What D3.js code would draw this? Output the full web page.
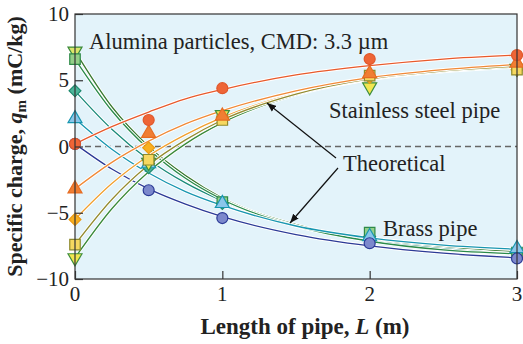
<!DOCTYPE html>
<html>
<head>
<meta charset="utf-8">
<script src="https://cdn.jsdelivr.net/npm/d3@7"></script>
<style>
	body { margin: 0; background: #fff; }
	svg { display: block; font-family: 'Liberation Serif', 'Times New Roman', serif; }
</style>
</head>
<body>
<svg width="523" height="344"></svg>
<script>
(function(){
	'use strict';

	// measured points (null = hidden behind other marks)
	const lengths = [0, 0.5, 1, 2, 3];
	const ssCircle = [0.2, 2.0, 4.4, 6.6, 6.9];
	const ssTriangle = [-3.2, 1.0, 2.3, 5.5, 6.3];
	const ssDiamond = [-5.5, -0.1, 2.2, 5.2, 5.8];
	const ssSquare = [-7.4, -1.0, 2.0, 5.35, 5.8];
	const ssTriDown = [-8.4, -1.2, 2.4, 4.5, 5.9];
	const brCircle = [0.2, -3.3, -5.4, -7.3, -8.45];
	const brTriangle = [2.1, -1.3, -4.3, -6.8, -7.7];
	const brDiamond = [4.2, -1.6, -4.3, -6.8, -8.0];
	const brSquare = [6.6, -1.0, -4.2, -6.5, -8.0];
	const brTriDown = [7.2, null, null, null, null];

	const theoryL = [0, 0.25, 0.5, 0.75, 1, 1.5, 2, 2.5, 3];
	const ssCircleTh = [0.2, 1.5, 2.6, 3.6, 4.3, 5.4, 6.1, 6.6, 6.9];
	const ssTriangleTh = [-3.2, -1.2, 0.4, 1.7, 2.7, 4.2, 5.2, 5.8, 6.2];
	const ssDiamondTh = [-5.5, -2.8, -0.7, 0.9, 2.2, 4.0, 5.05, 5.7, 6.1];
	const ssSquareTh = [-7.4, -4.0, -1.4, 0.5, 2.0, 3.95, 5.1, 5.7, 6.05];
	const ssTriDownTh = [-8.4, -4.7, -1.9, 0.2, 1.8, 3.9, 5.05, 5.65, 6.0];
	const brCircleTh = [0.2, -1.7, -3.2, -4.35, -5.3, -6.65, -7.5, -8.05, -8.4];
	const brTriangleTh = [2.1, -0.2, -2.0, -3.4, -4.45, -6.0, -6.9, -7.45, -7.75];
	const brDiamondTh = [4.2, 1.3, -1.0, -2.75, -4.1, -6.0, -7.1, -7.7, -8.1];
	const brSquareTh = [6.6, 2.7, -0.2, -2.4, -4.0, -6.0, -7.15, -7.8, -8.1];
	const brTriDownTh = [7.2, 3.0, 0.0, -2.2, -3.9, -5.9, -7.0, -7.6, -7.95];

	const xTicks = [0, 1, 2, 3];
	const yTicks = [-10, -5, 0, 5, 10];

	// drawing order: brass first, stainless on top
	const series = [
		{ pts: brTriDown, th: brTriDownTh, shape: d3.symbolTriangle, rot: 180, size: 85, fill: '#dce66a', stroke: '#3a8a3a', line: '#3a7a30' },
		{ pts: brDiamond, th: brDiamondTh, shape: d3.symbolSquare, rot: 45, size: 70, fill: '#4db69a', stroke: '#1e8a6e', line: '#1a8a7a' },
		{ pts: brSquare, th: brSquareTh, shape: d3.symbolSquare, rot: 0, size: 110, fill: '#94cf88', stroke: '#2e8a48', line: '#2a8a4a' },
		{ pts: brTriangle, th: brTriangleTh, shape: d3.symbolTriangle, rot: 0, size: 85, fill: '#8ac6ea', stroke: '#1896b0', line: '#1896b0' },
		{ pts: brCircle, th: brCircleTh, shape: d3.symbolCircle, rot: 0, size: 95, fill: '#7c88cc', stroke: '#2b3a96', line: '#2b3a96' },
		{ pts: ssTriDown, th: ssTriDownTh, shape: d3.symbolTriangle, rot: 180, size: 85, fill: '#f2e650', stroke: '#3e8e3e', line: '#3a8a3a' },
		{ pts: ssDiamond, th: ssDiamondTh, shape: d3.symbolSquare, rot: 45, size: 70, fill: '#f9b020', stroke: '#ec9a12', line: '#f0a030' },
		{ pts: ssSquare, th: ssSquareTh, shape: d3.symbolSquare, rot: 0, size: 110, fill: '#f6d860', stroke: '#8e8a2e', line: '#948c30' },
		{ pts: ssTriangle, th: ssTriangleTh, shape: d3.symbolTriangle, rot: 0, size: 85, fill: '#f07e33', stroke: '#e66c22', line: '#f08a38' },
		{ pts: ssCircle, th: ssCircleTh, shape: d3.symbolCircle, rot: 0, size: 95, fill: '#ee6537', stroke: '#e0572a', line: '#e85a2c' }
	];

	const svg = d3.select('svg');
	const left = 75, right = 517, top = 14, bottom = 279;

	const x = d3.scaleLinear().domain([0, 3]).range([left, right]);
	const y = d3.scaleLinear().domain([-10, 10]).range([bottom, top]);

	svg.append('rect')
		.attr('x', left)
		.attr('y', top)
		.attr('width', right - left)
		.attr('height', bottom - top)
		.attr('fill', '#e3f3fa');

	// dashed zero line
	svg.append('line')
		.attr('x1', left)
		.attr('x2', right)
		.attr('y1', y(0))
		.attr('y2', y(0))
		.attr('stroke', '#666')
		.attr('stroke-width', 1.3)
		.attr('stroke-dasharray', '6,4');

	const line = d3.line()
		.x((d, i) => x(theoryL[i]))
		.y(d => y(d))
		.curve(d3.curveMonotoneX);

	const plot = svg.append('g');

	series.forEach(s => {
		plot.append('path')
			.attr('d', line(s.th))
			.attr('fill', 'none')
			.attr('stroke', '#fff')
			.attr('stroke-width', 3.2);
		plot.append('path')
			.attr('d', line(s.th))
			.attr('fill', 'none')
			.attr('stroke', s.line)
			.attr('stroke-width', 1.3);
	});

	series.forEach(s => {
		const pts = s.pts.map((v, i) => [lengths[i], v]).filter(p => p[1] !== null);
		plot.selectAll(null)
			.data(pts)
			.enter()
			.append('path')
				.attr('d', d3.symbol().type(s.shape).size(s.size))
				.attr('transform', d => `translate(${x(d[0])}, ${y(d[1])}) rotate(${s.rot})`)
				.attr('fill', s.fill)
				.attr('stroke', s.stroke)
				.attr('stroke-width', 1.2);
	});

	// frame
	svg.append('rect')
		.attr('x', left)
		.attr('y', top)
		.attr('width', right - left)
		.attr('height', bottom - top)
		.attr('fill', 'none')
		.attr('stroke', '#333')
		.attr('stroke-width', 1.2);

	const yAxis = svg.append('g')
		.attr('transform', `translate(${left}, 0)`)
		.call(d3.axisRight(y).tickValues(yTicks).tickSize(8).tickFormat(''));
	yAxis.select('.domain').remove();
	yAxis.selectAll('line').attr('stroke', '#333').attr('stroke-width', 1.2);

	const xAxis = svg.append('g')
		.attr('transform', `translate(0, ${bottom})`)
		.call(d3.axisTop(x).tickValues(xTicks).tickSize(8).tickFormat(''));
	xAxis.select('.domain').remove();
	xAxis.selectAll('line').attr('stroke', '#333').attr('stroke-width', 1.2);

	svg.selectAll('.ylab')
		.data(yTicks)
		.enter()
		.append('text')
			.attr('x', left - 6)
			.attr('y', d => y(d) + 7)
			.attr('text-anchor', 'end')
			.attr('font-size', 21)
			.attr('fill', '#222')
			.text(d => d < 0 ? '\u2212' + Math.abs(d) : d);

	svg.selectAll('.xlab')
		.data(xTicks)
		.enter()
		.append('text')
			.attr('x', d => x(d))
			.attr('y', 301)
			.attr('text-anchor', 'middle')
			.attr('font-size', 21)
			.attr('fill', '#222')
			.text(d => d);

	// axis titles
	const xt = svg.append('text')
		.attr('x', 305)
		.attr('y', 334)
		.attr('text-anchor', 'middle')
		.attr('font-size', 23)
		.attr('font-weight', 'bold')
		.attr('fill', '#222');
	xt.append('tspan').text('Length of pipe, ');
	xt.append('tspan').attr('font-style', 'italic').text('L');
	xt.append('tspan').text(' (m)');

	const yt = svg.append('text')
		.attr('transform', `translate(22, ${(top + bottom) / 2}) rotate(-90)`)
		.attr('text-anchor', 'middle')
		.attr('font-size', 22)
		.attr('font-weight', 'bold')
		.attr('fill', '#222');
	yt.append('tspan').text('Specific charge, ');
	yt.append('tspan').attr('font-style', 'italic').text('q');
	yt.append('tspan').attr('font-size', 15).attr('dy', 4).text('m');
	yt.append('tspan').attr('dy', -4).text(' (mC/kg)');

	// annotations
	const note = (tx, ty, str) => svg.append('text')
		.attr('x', tx)
		.attr('y', ty)
		.attr('font-size', 22.5)
		.attr('fill', '#222')
		.text(str);

	note(89, 49, 'Alumina particles, CMD: 3.3 \u00b5m');
	note(329, 118, 'Stainless steel pipe');
	note(343, 171, 'Theoretical');
	note(383, 236, 'Brass pipe');

	svg.append('defs')
		.append('marker')
			.attr('id', 'arr')
			.attr('viewBox', '0 0 10 10')
			.attr('refX', 10)
			.attr('refY', 5)
			.attr('markerWidth', 9)
			.attr('markerHeight', 9)
			.attr('markerUnits', 'userSpaceOnUse')
			.attr('orient', 'auto')
		.append('path')
			.attr('d', 'M0,1 L10,5 L0,9 z')
			.attr('fill', '#111');

	const arrow = (x1, y1, x2, y2) => svg.append('line')
		.attr('x1', x1)
		.attr('y1', y1)
		.attr('x2', x2)
		.attr('y2', y2)
		.attr('stroke', '#111')
		.attr('stroke-width', 1.2)
		.attr('marker-end', 'url(#arr)');

	arrow(336, 158, 267, 103);
	arrow(338, 168, 290, 223);
})();
</script>
</body>
</html>
